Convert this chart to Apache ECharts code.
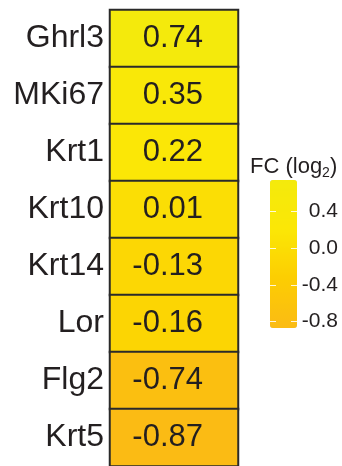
<!DOCTYPE html>
<html>
<head>
<meta charset="utf-8">
<style>
  html, body { margin: 0; padding: 0; background: #fff; }
  #chart { width: 342px; height: 466px; }
</style>
<script src="https://cdn.jsdelivr.net/npm/echarts@6/dist/echarts.min.js"></script>
</head>
<body>
<div id="chart"></div>
<script>
// Gene fold changes (log2)
const genes = ['Ghrl3', 'MKi67', 'Krt1', 'Krt10', 'Krt14', 'Lor', 'Flg2', 'Krt5'];
const fcLog2 = [0.74, 0.35, 0.22, 0.01, -0.13, -0.16, -0.74, -0.87];
const columns = ['FC'];
// Colour scale range and legend ticks
const scaleMin = -0.87;
const scaleMax = 0.74;
const legendTicks = [0.4, 0.0, -0.4, -0.8];
const scaleColors = ['#fbbb14', '#fccd02', '#fbe706', '#f4ea0c'];

const FONT = 'Liberation Sans, Arial, Helvetica, sans-serif';
const heatData = genes.map((g, i) => [0, i, fcLog2[i]]);

const chart = echarts.init(document.getElementById('chart'));
chart.setOption({
  animation: false,
  backgroundColor: '#ffffff',
  textStyle: { fontFamily: FONT },
  title: {
    text: 'FC (log{s|2})',
    left: 250,
    top: 154,
    padding: 0,
    textStyle: {
      fontFamily: FONT,
      fontSize: 22,
      fontWeight: 'normal',
      color: '#231f20',
      lineHeight: 26,
      rich: {
        s: { fontFamily: FONT, fontSize: 14, color: '#231f20', verticalAlign: 'bottom', lineHeight: 26, padding: [9, 0, 0, 0] }
      }
    }
  },
  grid: [
    { left: 110, top: 10, width: 128, height: 456 },
    { left: 270, top: 180, width: 27, height: 148 }
  ],
  xAxis: [
    { type: 'category', data: columns, gridIndex: 0, show: false },
    { type: 'value', gridIndex: 1, show: false, min: 0, max: 1 }
  ],
  yAxis: [
    {
      type: 'category',
      data: genes,
      gridIndex: 0,
      inverse: true,
      axisLine: { show: false },
      axisTick: { show: false },
      splitLine: { show: false },
      axisLabel: { fontFamily: FONT, fontSize: 32, color: '#231f20', margin: 6 }
    },
    {
      type: 'value',
      gridIndex: 1,
      position: 'left',
      min: scaleMin,
      max: scaleMax,
      z: 10,
      axisLine: { show: false },
      splitLine: { show: false },
      axisLabel: { show: false },
      axisTick: {
        show: true, inside: true, length: 6, customValues: legendTicks,
        lineStyle: { color: 'rgba(255,255,255,0.85)', width: 1 }
      }
    },
    {
      type: 'value',
      gridIndex: 1,
      position: 'right',
      min: scaleMin,
      max: scaleMax,
      z: 10,
      axisLine: { show: false },
      splitLine: { show: false },
      axisTick: {
        show: true, inside: true, length: 6, customValues: legendTicks,
        lineStyle: { color: 'rgba(255,255,255,0.85)', width: 1 }
      },
      axisLabel: {
        customValues: legendTicks,
        fontFamily: FONT,
        fontSize: 21,
        color: '#231f20',
        align: 'right',
        margin: 41,
        formatter: v => v.toFixed(1)
      }
    }
  ],
  visualMap: {
    type: 'continuous',
    seriesIndex: 0,
    min: scaleMin,
    max: scaleMax,
    calculable: false,
    orient: 'vertical',
    left: 270,
    top: 180,
    padding: 0,
    itemWidth: 27,
    itemHeight: 148,
    text: null,
    inRange: { color: scaleColors }
  },
  series: [{
    type: 'heatmap',
    xAxisIndex: 0,
    yAxisIndex: 0,
    data: heatData,
    itemStyle: { borderColor: '#2a2a2a', borderWidth: 2 },
    label: {
      show: true,
      position: 'inside',
      align: 'right',
      offset: [29, 0],
      fontFamily: FONT,
      fontSize: 31,
      color: '#231f20',
      formatter: p => p.value[2].toFixed(2)
    },
    emphasis: { disabled: true }
  }]
});
</script>
</body>
</html>
